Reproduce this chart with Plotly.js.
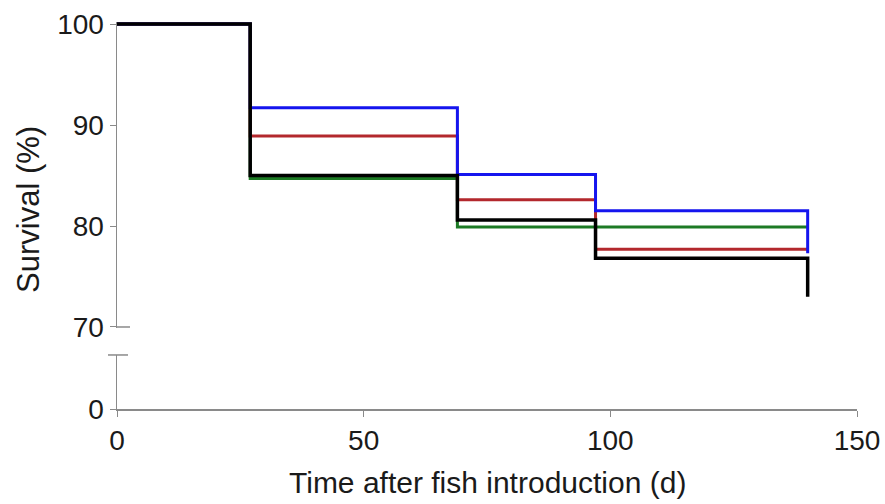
<!DOCTYPE html>
<html>
<head>
<meta charset="utf-8">
<script src="https://cdn.plot.ly/plotly-3.0.1.min.js"></script>
<style>html,body{margin:0;padding:0;background:#fff;}#chart{width:885px;height:504px;}</style>
</head>
<body>
<div id="chart"></div>
<script>
// Kaplan-Meier style survival steps (time in days, survival in %)
const timeDays   = [0, 27, 69, 97, 140, 140];
const blueSurv   = [100, 91.7, 85.1, 81.5, 81.5, 77.3];
const redSurv    = [100, 88.9, 82.6, 77.7, 77.7, 77.7];
const greenSurv  = [100, 84.7, 79.9, 79.9, 79.9, 79.9];
const blackSurv  = [100, 85.0, 80.6, 76.8, 76.8, 73.0];

const xTicks = [0, 50, 100, 150];
const yTicksUpper = [70, 80, 90, 100];
const yTicksLower = [0];

const axisColor = '#8a8a8a';
const fontFam = '"Liberation Sans", Arial, sans-serif';
const txtColor = '#1a1a1a';

function stepTrace(y, color, width) {
  return {x: timeDays, y: y, type: 'scatter', mode: 'lines', xaxis: 'x', yaxis: 'y2',
          line: {shape: 'hv', color: color, width: width}, hoverinfo: 'skip', showlegend: false};
}

const traces = [
  // empty trace so the lower (0) panel of the broken axis exists
  {x: [null], y: [null], type: 'scatter', mode: 'lines', xaxis: 'x', yaxis: 'y', showlegend: false, hoverinfo: 'skip'},
  stepTrace(greenSurv, '#1c7a24', 3),
  stepTrace(redSurv, '#b3282d', 3),
  stepTrace(blueSurv, '#1515ee', 3),
  stepTrace(blackSurv, '#000000', 3.5)
];

const tickFont = {size: 28, family: fontFam, color: txtColor};

const layout = {
  width: 885, height: 504,
  margin: {l: 117, r: 28, t: 22, b: 95},
  paper_bgcolor: '#fff', plot_bgcolor: '#fff',
  font: {family: fontFam, color: txtColor, size: 24},
  showlegend: false,
  xaxis: {
    range: [0, 150], tickvals: xTicks, ticks: 'outside', ticklen: 6, tickcolor: axisColor,
    showline: true, linecolor: axisColor, linewidth: 1.5, showgrid: false, zeroline: false,
    anchor: 'y', tickfont: tickFont
  },
  yaxis: {
    domain: [0, 0.1396], range: [0, 5.4], tickvals: yTicksLower, ticks: 'outside', ticklen: 6,
    tickcolor: axisColor, showline: true, linecolor: axisColor, linewidth: 1.5, showgrid: false,
    zeroline: false, anchor: 'x', tickfont: tickFont
  },
  yaxis2: {
    domain: [0.2093, 1], range: [69.9, 100.2], tickvals: yTicksUpper, ticks: 'outside', ticklen: 6,
    tickcolor: axisColor, showline: true, linecolor: axisColor, linewidth: 1.5, showgrid: false,
    zeroline: false, anchor: 'x', tickfont: tickFont
  },
  shapes: [
    {type: 'line', xref: 'paper', yref: 'y2', x0: 0, x1: 0.0176, y0: 70, y1: 70,
     line: {color: axisColor, width: 1.5}},
    {type: 'line', xref: 'paper', yref: 'paper', x0: -0.0122, x1: 0.0149, y0: 0.1396, y1: 0.1396,
     line: {color: axisColor, width: 1.5}}
  ],
  annotations: [
    {text: 'Survival (%)', xref: 'paper', yref: 'paper', x: -0.12, y: 0.515, textangle: -90,
     showarrow: false, xanchor: 'center', yanchor: 'middle', font: {size: 31, family: fontFam, color: txtColor}},
    {text: 'Time after fish introduction (d)', xref: 'paper', yref: 'paper', x: 0.5, y: -0.19,
     showarrow: false, xanchor: 'center', yanchor: 'middle', font: {size: 30, family: fontFam, color: txtColor}}
  ]
};

Plotly.newPlot('chart', traces, layout, {staticPlot: true, displayModeBar: false});
</script>
</body>
</html>
